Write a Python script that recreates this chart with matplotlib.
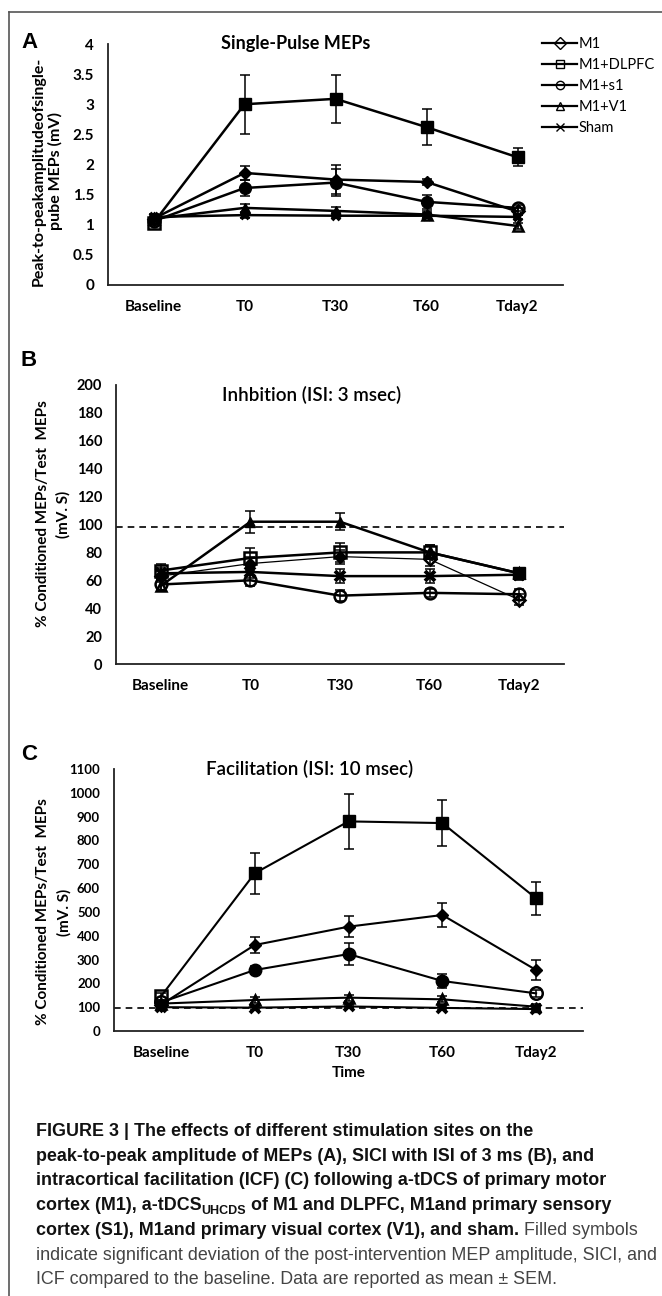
import matplotlib
matplotlib.use("Agg")
import matplotlib.pyplot as plt
from matplotlib.lines import Line2D

plt.rcParams["font.family"] = ["Lato", "DejaVu Sans"]

W, H = 662, 1296

TIMES = ["Baseline", "T0", "T30", "T60", "Tday2"]
GROUPS = ["M1", "M1+DLPFC", "M1+s1", "M1+V1", "Sham"]
MARKERS = ["D", "s", "o", "^", "x"]

# Panel A: single-pulse MEP amplitude (mV)
A_M1 = [1.10, 1.86, 1.75, 1.71, 1.22]
A_M1_ERR = [0.03, 0.12, 0.24, 0.05, 0.05]
A_DLPFC = [1.03, 3.00, 3.09, 2.62, 2.12]
A_DLPFC_ERR = [0.03, 0.49, 0.40, 0.30, 0.15]
A_S1 = [1.06, 1.61, 1.70, 1.38, 1.28]
A_S1_ERR = [0.03, 0.14, 0.22, 0.12, 0.05]
A_V1 = [1.10, 1.28, 1.23, 1.17, 0.98]
A_V1_ERR = [0.05, 0.07, 0.06, 0.05, 0.05]
A_SHAM = [1.13, 1.16, 1.15, 1.15, 1.13]
A_SHAM_ERR = [0.05, 0.04, 0.04, 0.04, 0.04]
A_FILLED = [[0, 1, 1, 1, 0], [0, 1, 1, 1, 1], [0, 1, 1, 1, 0],
            [0, 1, 1, 0, 0], [1, 1, 1, 1, 1]]

# Panel B: SICI, ISI 3 ms
B_M1 = [63, 72, 77, 75, 46]
B_M1_ERR = [4, 5, 5, 5, 4]
B_DLPFC = [67, 76, 80, 80, 65]
B_DLPFC_ERR = [5, 7, 7, 5, 4]
B_S1 = [57, 60, 49, 51, 50]
B_S1_ERR = [4, 4, 4, 3, 4]
B_V1 = [56, 102, 102, 80, 65]
B_V1_ERR = [4, 8, 6, 5, 4]
B_SHAM = [65, 66, 63, 63, 64]
B_SHAM_ERR = [4, 4, 5, 5, 4]
B_FILLED = [[0, 1, 1, 0, 0], [0, 0, 0, 0, 1], [0, 0, 0, 0, 0],
            [0, 1, 1, 0, 0], [1, 1, 1, 1, 1]]

# Panel C: ICF, ISI 10 ms
C_M1 = [110, 361, 438, 487, 256]
C_M1_ERR = [10, 35, 44, 50, 40]
C_DLPFC = [145, 662, 880, 873, 557]
C_DLPFC_ERR = [15, 87, 115, 95, 70]
C_S1 = [120, 256, 323, 210, 158]
C_S1_ERR = [10, 15, 45, 28, 15]
C_V1 = [115, 130, 140, 133, 102]
C_V1_ERR = [10, 12, 12, 12, 10]
C_SHAM = [100, 98, 103, 97, 92]
C_SHAM_ERR = [8, 8, 8, 8, 8]
C_FILLED = [[0, 1, 1, 1, 1], [0, 1, 1, 1, 1], [0, 1, 1, 1, 0],
            [0, 0, 0, 0, 1], [1, 1, 1, 1, 1]]


def box(left, top, right, bottom):
    """pixel box (from top-left) -> fig rect"""
    return [left / W, 1 - bottom / H, (right - left) / W, (bottom - top) / H]


def style_axes(ax, ylim, yticks, fs):
    ax.set_xlim(-0.5, 4.5)
    ax.set_ylim(*ylim)
    ax.set_yticks(yticks)
    ax.set_xticks(range(5))
    ax.set_xticklabels(TIMES)
    for s in ["top", "right"]:
        ax.spines[s].set_visible(False)
    for s in ["left", "bottom"]:
        ax.spines[s].set_color("#222222")
        ax.spines[s].set_linewidth(1.3)
    ax.tick_params(axis="y", length=0, pad=10, labelsize=fs)
    ax.tick_params(axis="x", length=0, pad=11, labelsize=11)
    for lab in ax.get_xticklabels() + ax.get_yticklabels():
        lab.set_fontweight("bold")


def draw_series(ax, series, filled, sizes, lws):
    x = list(range(5))
    for i, (vals, errs) in enumerate(series):
        ax.plot(x, vals, color="black", lw=lws[i], zorder=2)
        ax.errorbar(x, vals, yerr=errs, fmt="none", ecolor="black",
                    elinewidth=1.1, capsize=3.5, capthick=1.1, zorder=3)
        for j in x:
            m = MARKERS[i]
            if m == "x":
                ax.plot(j, vals[j], marker="x", ms=sizes[i], mew=2.8,
                        color="black", zorder=4)
            elif filled[i][j]:
                ax.plot(j, vals[j], marker=m, ms=sizes[i], color="black",
                        mec="black", zorder=4)
            else:
                ax.plot(j, vals[j], marker=m, ms=sizes[i], mfc="none",
                        mec="black", mew=1.8, zorder=4)


fig = plt.figure(figsize=(W / 100, H / 100), dpi=100)

# ---- A
axA = fig.add_axes(box(108, 44, 563, 285))
draw_series(axA, [(A_M1, A_M1_ERR), (A_DLPFC, A_DLPFC_ERR), (A_S1, A_S1_ERR),
                  (A_V1, A_V1_ERR), (A_SHAM, A_SHAM_ERR)],
            A_FILLED, [6.5, 8, 8.5, 7, 6], [1.8] * 5)
style_axes(axA, (0, 4), [0, 0.5, 1, 1.5, 2, 2.5, 3, 3.5, 4], 11)
axA.set_yticklabels(["0", "0.5", "1", "1.5", "2", "2.5", "3", "3.5", "4"])
axA.text(0.413, 1.0, "Single-Pulse MEPs", transform=axA.transAxes,
         ha="center", va="center", fontsize=13, fontweight="bold")

handles = [Line2D([], [], color="black", lw=1.6, marker=m, ms=6,
                  mfc="none", mec="black", mew=1.0) for m in MARKERS]
fig.legend(handles, GROUPS, loc="upper left",
           bbox_to_anchor=(542 / W, 1 - 37 / H), frameon=False,
           fontsize=10.5, handlelength=2.4, handletextpad=0.1,
           labelspacing=0.48, borderpad=0, borderaxespad=0)

# ---- B
axB = fig.add_axes(box(116, 385, 564, 664))
axB.axhline(98, color="black", lw=1.2, ls=(0, (4, 3)), zorder=1)
draw_series(axB, [(B_M1, B_M1_ERR), (B_DLPFC, B_DLPFC_ERR), (B_S1, B_S1_ERR),
                  (B_V1, B_V1_ERR), (B_SHAM, B_SHAM_ERR)],
            B_FILLED, [6, 8, 8.5, 7.5, 7], [0.9, 1.8, 1.8, 1.8, 1.8])
style_axes(axB, (0, 200), range(0, 201, 20), 10.5)
axB.text(0.4375, 0.964, "Inhbition (ISI: 3 msec)", transform=axB.transAxes,
         ha="center", va="center", fontsize=13.5, fontweight="semibold")

# ---- C
axC = fig.add_axes(box(114, 769, 583, 1031))
axC.axhline(95, color="black", lw=1.2, ls=(0, (4, 3)), zorder=1)
draw_series(axC, [(C_M1, C_M1_ERR), (C_DLPFC, C_DLPFC_ERR), (C_S1, C_S1_ERR),
                  (C_V1, C_V1_ERR), (C_SHAM, C_SHAM_ERR)],
            C_FILLED, [6.5, 8.5, 9, 7.5, 7], [1.5] * 5)
style_axes(axC, (0, 1100), range(0, 1101, 100), 9.5)
axC.text(0.418, 1.0, "Facilitation (ISI: 10 msec)", transform=axC.transAxes,
         ha="center", va="center", fontsize=13.5, fontweight="semibold")
axC.set_xlabel("Time", fontsize=11, fontweight="bold", labelpad=4)

# panel letters and y labels
for letter, ypx in [("A", 42), ("B", 360), ("C", 754)]:
    fig.text(21 / W, 1 - ypx / H, letter, family="Liberation Sans",
             fontsize=16, fontweight="bold", va="center")
fig.text(47 / W, 1 - 171 / H, "Peak-to-peakamplitudeofsingle-\npube MEPs (mV)",
         rotation=90, ha="center", va="center", fontsize=11.5,
         fontweight="bold", linespacing=1.2)
fig.text(53 / W, 1 - 514 / H, "% Conditioned MEPs/Test  MEPs\n(mV. S)",
         rotation=90, ha="center", va="center", fontsize=11,
         fontweight="bold", linespacing=1.55)
fig.text(54 / W, 1 - 912 / H, "% Conditioned MEPs/Test  MEPs\n(mV. S)",
         rotation=90, ha="center", va="center", fontsize=11,
         fontweight="bold", linespacing=1.6)

# figure frame (top and left edges)
fig.add_artist(Line2D([9 / W, 1], [1 - 12 / H] * 2, color="#555555", lw=1.2))
fig.add_artist(Line2D([9 / W] * 2, [1 - 12 / H, 0], color="#555555", lw=1.2))

# caption
renderer = fig.canvas.get_renderer()
CAP = dict(family="Liberation Sans", fontsize=12.9, va="baseline")
BOLD = dict(CAP, fontweight="bold", color="#111111")
REG = dict(CAP, color="#444444")


def put_runs(x, ypx, runs):
    for txt, kw in runs:
        off = kw.pop("dy", 0)
        t = fig.text(x / W, 1 - (ypx + off) / H, txt, **kw)
        x = t.get_window_extent(renderer).x1


cap_lines = [
    [("FIGURE 3 | The effects of different stimulation sites on the", BOLD)],
    [("peak-to-peak amplitude of MEPs (A), SICI with ISI of 3 ms (B), and", BOLD)],
    [("intracortical facilitation (ICF) (C) following a-tDCS of primary motor", BOLD)],
    [("cortex (M1), a-tDCS", BOLD),
     ("UHCDS", dict(BOLD, fontsize=9, dy=4)),
     (" of M1 and DLPFC, M1and primary sensory", BOLD)],
    [("cortex (S1), M1and primary visual cortex (V1), and sham.", BOLD),
     (" Filled symbols", REG)],
    [("indicate significant deviation of the post-intervention MEP amplitude, SICI, and", REG)],
    [("ICF compared to the baseline. Data are reported as mean \u00b1 SEM.", REG)],
]
for k, runs in enumerate(cap_lines):
    put_runs(36, 1136 + 24.7 * k, [(t, dict(kw)) for t, kw in runs])

fig.savefig("out.png", dpi=100)
